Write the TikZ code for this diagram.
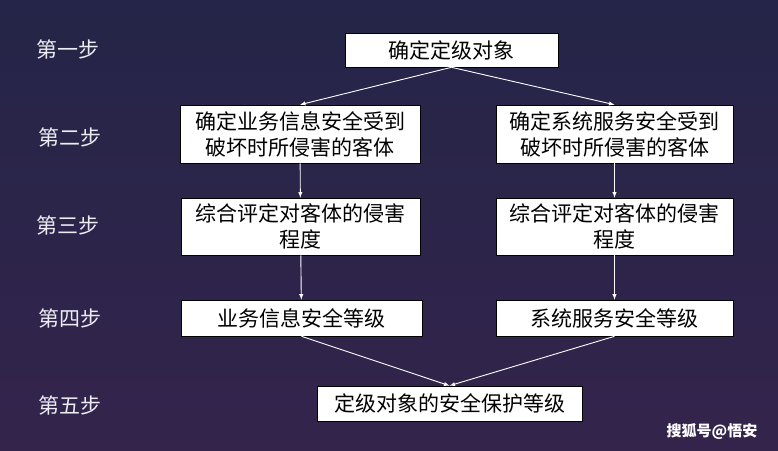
\documentclass[tikz,border=0pt]{standalone}
\usepackage{fontspec}
\setmainfont{Noto Sans CJK SC}
\usetikzlibrary{arrows}
\usetikzlibrary{shapes}
\definecolor{bgtop}{RGB}{36,37,72}
\definecolor{bgbot}{RGB}{52,36,76}
\definecolor{steptext}{RGB}{236,236,242}
\begin{document}
\begin{tikzpicture}[x = 1pt, y = -1pt]
\tikzstyle{BoxStyle}=[shape = rectangle,
                      fill = white,
                      draw = black,
                      line width = 0.6pt,
                      inner sep = 0pt,
                      align = center,
                      font = \fontsize{21}{26}\selectfont]
\tikzstyle{StepStyle}=[text = steptext,
                       font = \fontsize{21}{24}\selectfont]
\tikzstyle{EdgeStyle}=[draw = white,
                       line width = 0.9pt,
                       -latex]
\shade[top color = bgtop, bottom color = bgbot] (0,0) rectangle (778,450);
\useasboundingbox (0,0) rectangle (778,450);
\node[StepStyle] (s1) at (68, 49) {第一步};
\node[StepStyle] (s2) at (70, 137) {第二步};
\node[StepStyle] (s3) at (68, 225) {第三步};
\node[StepStyle] (s4) at (70, 318) {第四步};
\node[StepStyle] (s5) at (70, 405) {第五步};
\node[BoxStyle, minimum width = 213, minimum height = 34] (b1) at (451.5, 50) {确定定级对象};
\node[BoxStyle, minimum width = 240, minimum height = 58] (b2l) at (300, 134) {确定业务信息安全受到\\破坏时所侵害的客体};
\node[BoxStyle, minimum width = 237, minimum height = 58] (b2r) at (614.5, 134) {确定系统服务安全受到\\破坏时所侵害的客体};
\node[BoxStyle, minimum width = 239, minimum height = 57] (b3l) at (300.5, 226.5) {综合评定对客体的侵害\\程度};
\node[BoxStyle, minimum width = 237, minimum height = 57] (b3r) at (614.5, 226.5) {综合评定对客体的侵害\\程度};
\node[BoxStyle, minimum width = 241, minimum height = 36] (b4l) at (301.5, 318) {业务信息安全等级};
\node[BoxStyle, minimum width = 237, minimum height = 36] (b4r) at (614.5, 318) {系统服务安全等级};
\node[BoxStyle, minimum width = 265, minimum height = 35] (b5) at (449.5, 403.5) {定级对象的安全保护等级};
\node[text = white, font = \fontsize{15}{18}\selectfont\bfseries] (wm) at (712, 431) {搜狐号@悟安};
\draw[EdgeStyle] (b1.south) -- (b2l.north);
\draw[EdgeStyle] (b1.south) -- (b2r.north);
\draw[EdgeStyle] (b2l) -- (b3l);
\draw[EdgeStyle] (b2r) -- (b3r);
\draw[EdgeStyle] (b3l) -- (b4l);
\draw[EdgeStyle] (b3r) -- (b4r);
\draw[EdgeStyle] (b4l.south) -- (b5.north);
\draw[EdgeStyle] (b4r.south) -- (b5.north);
\end{tikzpicture}
\end{document}
